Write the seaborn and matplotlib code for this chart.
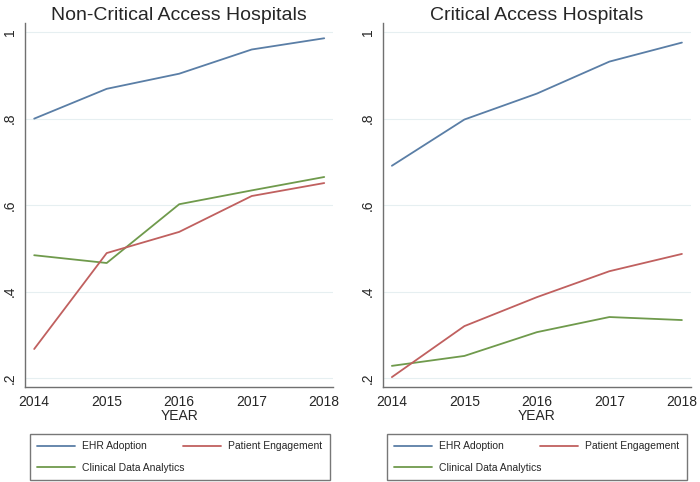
import matplotlib
matplotlib.use('Agg')
import matplotlib.pyplot as plt
import seaborn as sns
import pandas as pd

years = [2014, 2015, 2016, 2017, 2018]

# Non-Critical Access Hospitals
noncrit_ehr = [0.800, 0.869, 0.904, 0.960, 0.986]
noncrit_patient = [0.267, 0.489, 0.538, 0.621, 0.651]
noncrit_clinical = [0.484, 0.466, 0.602, 0.634, 0.665]

# Critical Access Hospitals
crit_ehr = [0.691, 0.798, 0.858, 0.932, 0.976]
crit_patient = [0.202, 0.320, 0.387, 0.447, 0.487]
crit_clinical = [0.228, 0.251, 0.306, 0.341, 0.334]

series_names = ['EHR Adoption', 'Clinical Data Analytics', 'Patient Engagement']
y_ticks = [0.2, 0.4, 0.6, 0.8, 1.0]
y_tick_labels = ['.2', '.4', '.6', '.8', '1']

palette = {
    'EHR Adoption': '#5a7ea6',
    'Patient Engagement': '#c0605f',
    'Clinical Data Analytics': '#6f9a4c',
}


def make_df(ehr, clinical, patient):
    rows = []
    for name, vals in zip(series_names, [ehr, clinical, patient]):
        for yr, v in zip(years, vals):
            rows.append({'YEAR': yr, 'value': v, 'series': name})
    return pd.DataFrame(rows)


sns.set_style('white')
plt.rcParams['font.family'] = ['Liberation Sans', 'DejaVu Sans']

fig = plt.figure(figsize=(7, 4.82), dpi=100)
ax1 = fig.add_axes([0.036, 0.197, 0.440, 0.755])
ax2 = fig.add_axes([0.547, 0.197, 0.440, 0.755])

panels = [
    (ax1, 'Non-Critical Access Hospitals', make_df(noncrit_ehr, noncrit_clinical, noncrit_patient), 0.043),
    (ax2, 'Critical Access Hospitals', make_df(crit_ehr, crit_clinical, crit_patient), 0.553),
]

for ax, title, df, leg_x in panels:
    sns.lineplot(data=df, x='YEAR', y='value', hue='series', hue_order=series_names,
                 palette=palette, linewidth=1.3, ax=ax, legend=True)
    ax.set_xlim(2013.876, 2018.124)
    ax.set_ylim(0.179, 1.021)
    ax.set_xticks(years)
    ax.set_xticklabels([str(y) for y in years], fontsize=10)
    ax.set_yticks(y_ticks)
    ax.set_yticklabels(y_tick_labels, rotation=90, va='center', fontsize=10)
    ax.grid(axis='y', color='#e6eff1', linewidth=0.8)
    ax.set_axisbelow(True)
    for s in ['top', 'right']:
        ax.spines[s].set_visible(False)
    for s in ['left', 'bottom']:
        ax.spines[s].set_color('#707070')
        ax.spines[s].set_linewidth(1.0)
    ax.tick_params(axis='both', direction='out', length=4, width=0.8, color='#707070', pad=2)
    ax.set_title(title, fontsize=14, pad=2)
    ax.set_xlabel('YEAR', fontsize=10, labelpad=0)
    ax.set_ylabel('')

    handles, labels = ax.get_legend_handles_labels()
    ax.get_legend().remove()
    leg = fig.legend(handles, labels, loc='lower left',
                     bbox_to_anchor=(leg_x, 0.004, 0.428, 0.10), mode='expand',
                     borderaxespad=0, ncol=2, fontsize=7.5, frameon=True, fancybox=False,
                     handlelength=3.6, handletextpad=0.7, borderpad=0.7,
                     labelspacing=1.1, columnspacing=0.8)
    leg.get_frame().set_edgecolor('#555555')
    leg.get_frame().set_linewidth(1.0)

fig.savefig('out.png', dpi=100)
